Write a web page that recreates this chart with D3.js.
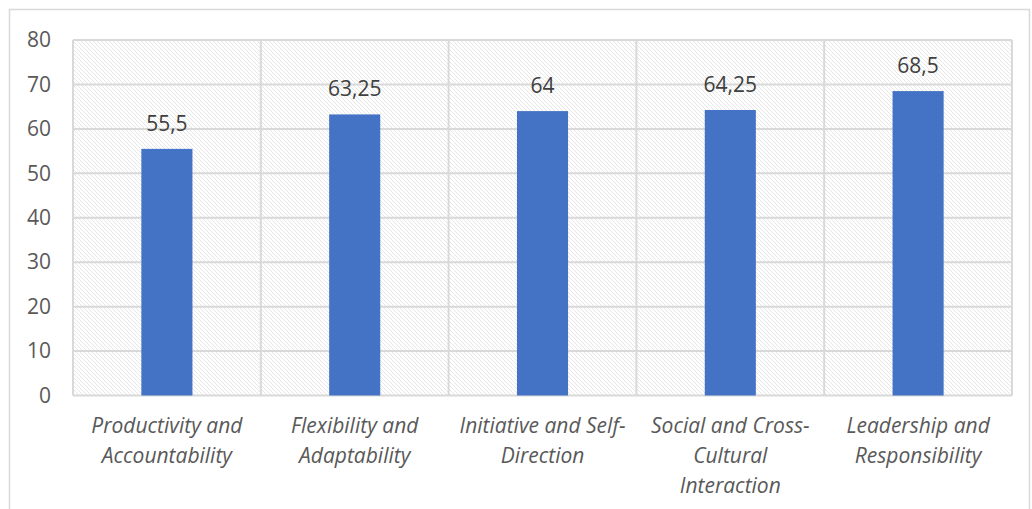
<!DOCTYPE html>
<html>
<head>
<meta charset="utf-8">
<script src="https://cdn.jsdelivr.net/npm/d3@7"></script>
<style>
  body { margin: 0; background: #fff; }
  svg text { font-family: "Open Sans", sans-serif; }
</style>
</head>
<body>
<svg id="chart"></svg>
<script>
let categories = [
  ['Productivity and', 'Accountability'],
  ['Flexibility and', 'Adaptability'],
  ['Initiative and Self-', 'Direction'],
  ['Social and Cross-', 'Cultural', 'Interaction'],
  ['Leadership and', 'Responsibility']
]
let values = [55.5, 63.25, 64, 64.25, 68.5]
let valueLabels = ['55,5', '63,25', '64', '64,25', '68,5']
let yTicks = [0, 10, 20, 30, 40, 50, 60, 70, 80]

let width = 1032
let height = 509
let plotLeft = 73
let plotRight = 1012
let plotTop = 40
let plotBottom = 395.5

let svg = d3.select('#chart')
    .attr('width', width)
    .attr('height', height)

// chart border
svg.append('rect')
    .attr('x', 9.5).attr('y', 9.5)
    .attr('width', width - 12).attr('height', height)
    .attr('fill', 'white')
    .attr('stroke', '#d9d9d9')
    .attr('stroke-width', 1.5)

// hatch pattern
let defs = svg.append('defs')
let pat = defs.append('pattern')
    .attr('id', 'hatch')
    .attr('patternUnits', 'userSpaceOnUse')
    .attr('width', 4).attr('height', 4)
pat.append('rect').attr('width', 4).attr('height', 4).attr('fill', 'white')
pat.append('path')
    .attr('d', 'M-1,-1 L5,5 M-1,3 L1,5 M3,-1 L5,1')
    .attr('stroke', '#e6e6e6')
    .attr('stroke-width', 1)

let xScale = d3.scaleBand()
    .domain(d3.range(categories.length))
    .range([plotLeft, plotRight])
    .paddingInner(0)
    .paddingOuter(0)

let yScale = d3.scaleLinear()
    .domain([0, 80])
    .range([plotBottom, plotTop])

svg.append('rect')
    .attr('x', plotLeft).attr('y', plotTop)
    .attr('width', plotRight - plotLeft).attr('height', plotBottom - plotTop)
    .attr('fill', 'url(#hatch)')

// horizontal gridlines
svg.append('g')
    .selectAll('line')
    .data(yTicks)
    .enter()
    .append('line')
    .attr('x1', plotLeft).attr('x2', plotRight)
    .attr('y1', d => yScale(d)).attr('y2', d => yScale(d))
    .attr('stroke', '#d9d9d9')
    .attr('stroke-width', 2)

// vertical gridlines at category boundaries
let bounds = d3.range(categories.length + 1).map(i => plotLeft + i * xScale.bandwidth())
svg.append('g')
    .selectAll('line')
    .data(bounds)
    .enter()
    .append('line')
    .attr('x1', d => d).attr('x2', d => d)
    .attr('y1', plotTop).attr('y2', plotBottom)
    .attr('stroke', '#d9d9d9')
    .attr('stroke-width', 2)

// y axis
let yAxis = d3.axisLeft(yScale).tickValues(yTicks).tickSize(0).tickPadding(22)
let yg = svg.append('g')
    .attr('transform', 'translate(' + plotLeft + ',0)')
    .call(yAxis)
yg.select('.domain').remove()
yg.selectAll('text')
    .attr('fill', '#595959')
    .style('font-size', '21px')

// bars
let barW = xScale.bandwidth() * 0.272
svg.selectAll('.bar')
    .data(values)
    .enter()
    .append('rect')
    .attr('class', 'bar')
    .attr('x', (d, i) => xScale(i) + xScale.bandwidth() / 2 - barW / 2)
    .attr('width', barW)
    .attr('y', d => yScale(d))
    .attr('height', d => yScale(0) - yScale(d))
    .attr('fill', '#4472c4')

// value labels
svg.selectAll('.vlabel')
    .data(values)
    .enter()
    .append('text')
    .attr('class', 'vlabel')
    .attr('x', (d, i) => xScale(i) + xScale.bandwidth() / 2)
    .attr('y', d => yScale(d) - 18)
    .attr('text-anchor', 'middle')
    .attr('fill', '#404040')
    .style('font-size', '21px')
    .text((d, i) => valueLabels[i])

// category labels
let cat = svg.selectAll('.clabel')
    .data(categories)
    .enter()
    .append('text')
    .attr('class', 'clabel')
    .attr('text-anchor', 'middle')
    .attr('fill', '#595959')
    .style('font-size', '21px')
    .style('font-style', 'italic')
cat.selectAll('tspan')
    .data((d, i) => d.map(line => ({ line: line, i: i })))
    .enter()
    .append('tspan')
    .attr('x', d => xScale(d.i) + xScale.bandwidth() / 2)
    .attr('y', (d, j) => 433 + j * 30)
    .text(d => d.line)
</script>
</body>
</html>
